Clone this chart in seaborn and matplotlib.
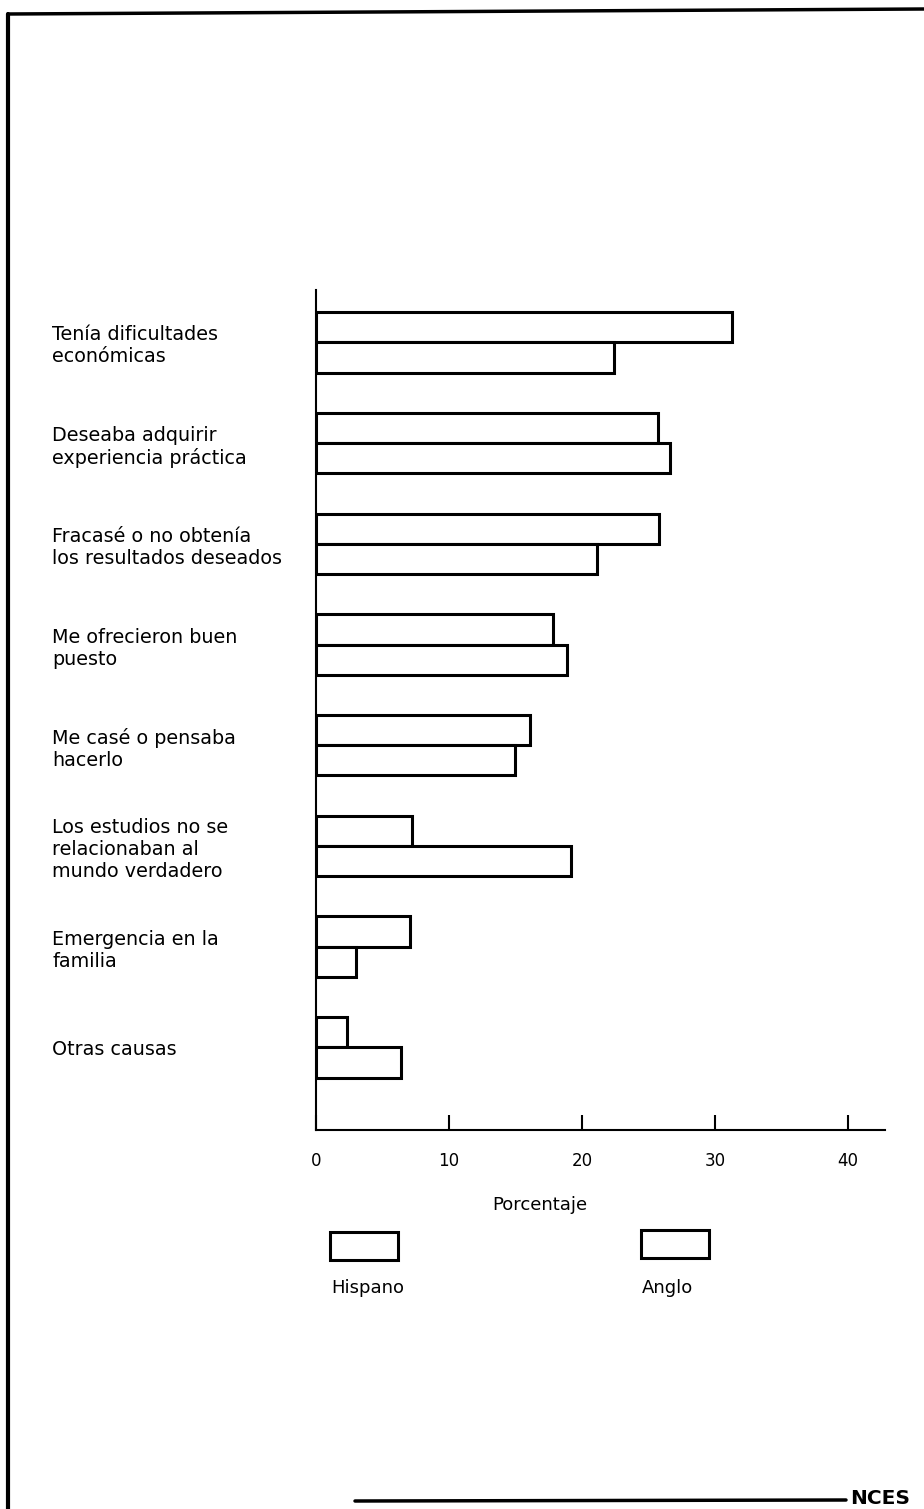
import matplotlib
matplotlib.use("Agg")
import matplotlib.pyplot as plt
import seaborn as sns
import pandas as pd
from matplotlib.patches import Rectangle
from matplotlib.lines import Line2D

categories = [
    "Tenía dificultades\neconómicas",
    "Deseaba adquirir\nexperiencia práctica",
    "Fracasé o no obtenía\nlos resultados deseados",
    "Me ofrecieron buen\npuesto",
    "Me casé o pensaba\nhacerlo",
    "Los estudios no se\nrelacionaban al\nmundo verdadero",
    "Emergencia en la\nfamilia",
    "Otras causas",
]
hispano = [31.3, 25.7, 25.8, 17.8, 16.1, 7.2, 7.1, 2.3]
anglo = [22.4, 26.6, 21.1, 18.9, 15.0, 19.2, 3.0, 6.4]
groups = ["Hispano", "Anglo"]
xticks = [0, 10, 20, 30, 40]

df = pd.DataFrame({
    "cat": categories * 2,
    "val": hispano + anglo,
    "grupo": [groups[0]] * len(categories) + [groups[1]] * len(categories),
})

sns.set_theme(style="white")
plt.rcParams["font.family"] = ["DejaVu Sans"]
plt.rcParams["text.color"] = "black"
plt.rcParams["xtick.color"] = "black"
plt.rcParams["ytick.color"] = "black"
plt.rcParams["axes.labelcolor"] = "black"

W, H = 924, 1509
fig = plt.figure(figsize=(W / 100, H / 100), dpi=100)
ax = fig.add_axes([316 / W, 1 - 1130 / H, (885 - 316) / W, (1130 - 290) / H])

sns.barplot(data=df, x="val", y="cat", hue="grupo", orient="h", ax=ax,
            palette={"Hispano": "white", "Anglo": "white"},
            edgecolor="black", linewidth=2.2, width=0.6, legend=False)

ax.set_xlim(0, 42.8)
ax.set_ylim(7.82, -0.52)
ax.set_xticks(xticks)
ax.set_xticklabels([str(t) for t in xticks], fontsize=12)
ax.tick_params(axis="x", direction="in", length=11, width=1.5, color="black",
               pad=16, bottom=True)
ax.tick_params(axis="y", length=0, pad=190, labelsize=13.8)
for lab in ax.get_yticklabels():
    lab.set_horizontalalignment("left")
    lab.set_multialignment("left")
    lab.set_linespacing(1.2)
ax.set_ylabel("")
ax.set_xlabel("Porcentaje", fontsize=13)
ax.xaxis.set_label_coords((540 - 316) / (885 - 316), -(1196 - 1130) / (1130 - 290))

for side in ["top", "right"]:
    ax.spines[side].set_visible(False)
for side in ["left", "bottom"]:
    ax.spines[side].set_color("black")
    ax.spines[side].set_linewidth(1.5)

# legend drawn as boxes with labels beneath
leg = [(330, 1232, groups[0]), (641, 1230, groups[1])]
for x0, y0, name in leg:
    fig.patches.append(Rectangle((x0 / W, 1 - (y0 + 28) / H), 68 / W, 28 / H,
                                 transform=fig.transFigure, facecolor="white",
                                 edgecolor="black", linewidth=2.2))
    fig.text((x0 + 1) / W, 1 - 1288 / H, name, ha="left", va="center", fontsize=13)

# page frame
fig.add_artist(Line2D([8 / W, 8 / W], [0, 1 - 14 / H], color="black", lw=3,
                      transform=fig.transFigure))
fig.add_artist(Line2D([8 / W, 1], [1 - 14 / H, 1 - 9 / H], color="black", lw=2.5,
                      transform=fig.transFigure))
fig.add_artist(Line2D([355 / W, 846 / W], [1 - 1501 / H, 1 - 1500 / H], color="black",
                      lw=2.5, transform=fig.transFigure))
fig.text(850 / W, 1 - 1499 / H, "NCES", ha="left", va="center", fontsize=14.5,
         fontweight="bold")

fig.savefig("out.png", dpi=100, facecolor="white")
